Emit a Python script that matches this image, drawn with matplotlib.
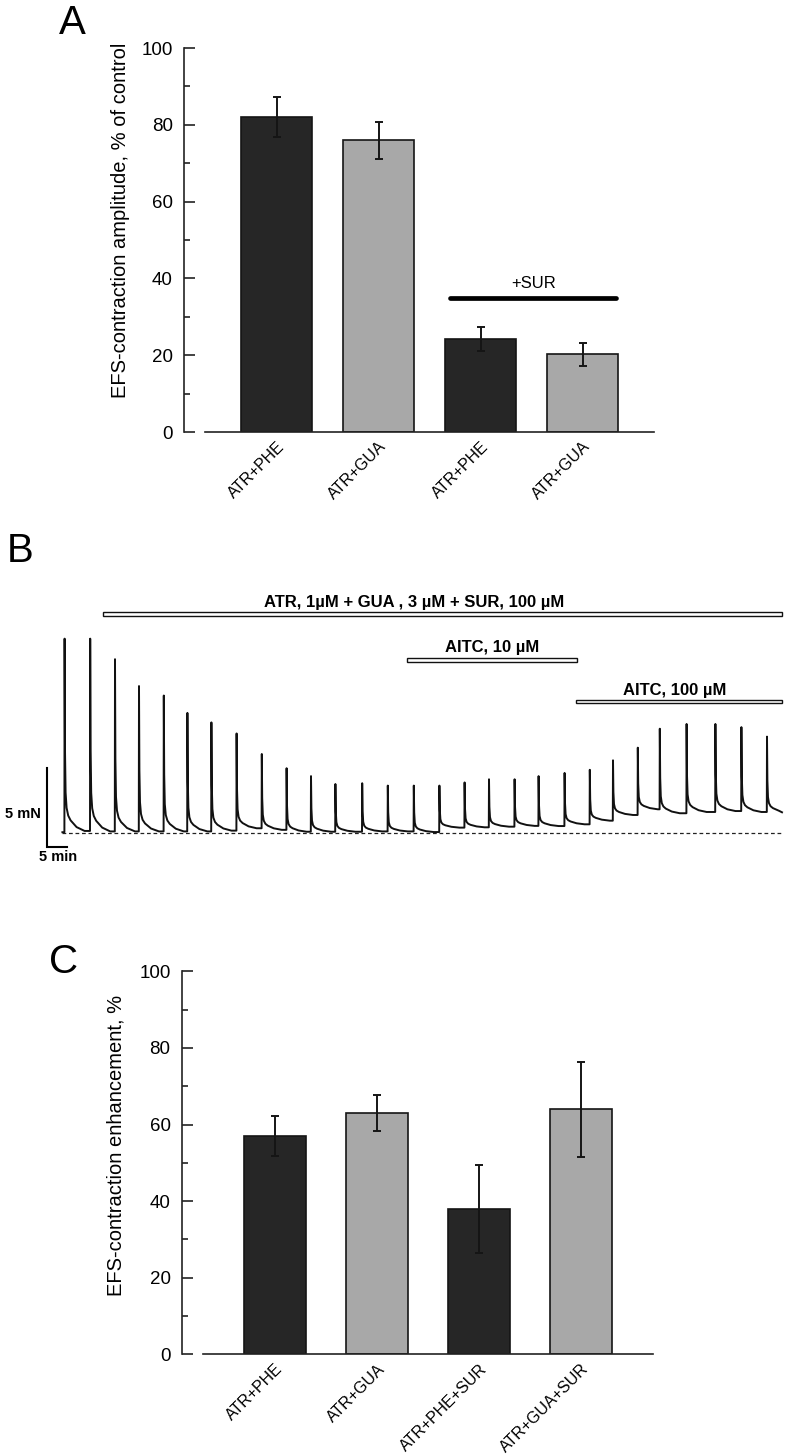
import numpy as np
import matplotlib
matplotlib.use("Agg")
from matplotlib import pyplot as plt
from matplotlib.patches import Rectangle
from matplotlib.ticker import MultipleLocator

plt.rcParams['font.family'] = ['Liberation Sans', 'DejaVu Sans']

# panel A
a_labels = ["ATR+PHE", "ATR+GUA", "ATR+PHE", "ATR+GUA"]
a_values = [82.0, 76.0, 24.2, 20.3]
a_errors = [5.2, 4.8, 3.1, 3.0]

# panel C
c_labels = ["ATR+PHE", "ATR+GUA", "ATR+PHE+SUR", "ATR+GUA+SUR"]
c_values = [57.0, 63.0, 38.0, 64.0]
c_errors = [5.2, 4.8, 11.5, 12.4]

# panel B: contraction trace (time in min, force in mN above baseline)
spike_t = [16.1, 22.5, 28.7, 34.7, 40.9, 46.8, 52.8, 59.1, 65.4, 71.6,
           77.7, 83.8, 90.5, 96.9, 103.4, 109.8, 116.1, 122.2, 128.6, 134.6,
           141.1, 147.4, 153.2, 159.4, 164.9, 171.6, 178.8, 185.3, 191.7]
spike_peak = [12.3, 12.3, 11.0, 9.3, 8.7, 7.6, 7.0, 6.3, 5.0, 4.1,
              3.6, 3.1, 3.15, 3.0, 3.0, 3.0, 3.2, 3.4, 3.4, 3.6,
              3.8, 4.0, 4.6, 5.4, 6.6, 6.9, 6.9, 6.7, 6.1]
plateau = [0.13, 0.1, 0.1, 0.1, 0.1, 0.1, 0.15, 0.3, 0.2, 0.08,
           0.08, 0.08, 0.1, 0.1, 0.06, 0.34, 0.36, 0.4, 0.45, 0.44,
           0.55, 0.78, 1.14, 1.5, 1.25, 1.33, 1.39, 1.33, 1.31]
trace_start, trace_end, start_level = 15.6, 195.5, 0.05
# relaxation shape after each peak (time after peak, fraction of amplitude left)
decay_dt = [0, 0.1, 0.25, 0.5, 0.9, 1.5, 3.0, 5.0]
decay_frac = [1, 0.42, 0.2, 0.12, 0.08, 0.055, 0.02, 0]

treat_labels = ["ATR, 1µM + GUA , 3 µM + SUR, 100 µM", "AITC, 10 µM", "AITC, 100 µM"]
treat_start = [25.75, 101.8, 144.0]
treat_end = [195.5, 144.2, 195.5]

dark = '#262626'
light = '#a8a8a8'
edge = '#151515'

W, H = 787, 1456
fig = plt.figure(figsize=(W / 100, H / 100), dpi=100)


def px_axes(x0, y0, x1, y1):
    return fig.add_axes([x0 / W, 1 - y1 / H, (x1 - x0) / W, (y1 - y0) / H])


def bar_panel(ax, labels, values, errors, width):
    x = np.arange(len(values))
    cols = [dark, light, dark, light]
    ax.bar(x, values, width, color=cols, edgecolor=edge, linewidth=1.2,
           yerr=errors, error_kw=dict(ecolor=edge, elinewidth=1.4, capsize=3.2, capthick=1.4),
           zorder=2)
    ax.set_xlim(-0.91, 3.70)
    ax.set_ylim(0, 100)
    for s in ['top', 'right']:
        ax.spines[s].set_visible(False)
    ax.spines['bottom'].set_bounds(-0.7, 3.7)
    for s in ['bottom', 'left']:
        ax.spines[s].set_linewidth(1.2)
        ax.spines[s].set_color('#222222')
    ax.yaxis.set_major_locator(MultipleLocator(20))
    ax.yaxis.set_minor_locator(MultipleLocator(10))
    ax.tick_params(axis='y', which='major', direction='in', length=8, width=1.2,
                   labelsize=13.5, pad=8, color='#222222')
    ax.tick_params(axis='y', which='minor', direction='in', length=4, width=1.2, color='#222222')
    ax.set_xticks(x)
    ax.set_xticklabels(labels, rotation=45, ha='right', va='top', rotation_mode='anchor', fontsize=11.5)
    ax.tick_params(axis='x', length=0, pad=5)


# ---- A ----
axA = px_axes(184, 48, 654, 432)
bar_panel(axA, a_labels, a_values, a_errors, 0.7)
axA.plot([1.7, 3.33], [35, 35], color='black', lw=3.4, solid_capstyle='round')
axA.text(2.52, 36.6, "+SUR", ha='center', va='bottom', fontsize=12)
fig.text(121 / W, 1 - 220 / H, "EFS-contraction amplitude, % of control", rotation=90,
         ha='center', va='center', fontsize=14.5)
fig.text(72 / W, 1 - 23 / H, "A", ha='center', va='center', fontsize=29)

# ---- B ----
axB = px_axes(0, 560, 787, 880)
px_min, px_mN, base_px = 4.0, 15.8, 833
axB.set_xlim(0, W / px_min)
axB.set_ylim(-(880 - base_px) / px_mN, (base_px - 560) / px_mN)
axB.axis('off')

tt = [trace_start]
ff = [start_level]
prev = start_level
for i in range(len(spike_t)):
    t0 = spike_t[i]
    nxt = spike_t[i + 1] if i + 1 < len(spike_t) else trace_end
    tt += [t0, t0 + 0.05]
    ff += [prev, spike_peak[i]]
    for d, fr in zip(decay_dt[1:], decay_frac[1:]):
        if t0 + 0.05 + d < nxt:
            tt.append(t0 + 0.05 + d)
            ff.append(plateau[i] + (spike_peak[i] - plateau[i]) * fr)
    tt.append(nxt)
    ff.append(plateau[i])
    prev = plateau[i]
axB.plot(tt, ff, color='#111111', lw=1.4, zorder=3, solid_joinstyle='round')
axB.plot([trace_start, trace_end], [0, 0], color='#222222', lw=0.9, dashes=(3, 2.2), zorder=2)

bar_y = [14.62 - 0.76, 10.95, 8.31]
text_y = [14.62, 11.73, 9.05]
text_x = [103.6, 123.1, 168.75]
for lab, s, e, by, tx, ty in zip(treat_labels, treat_start, treat_end, bar_y, text_x, text_y):
    axB.add_patch(Rectangle((s, by - 0.11), e - s, 0.22, facecolor='white',
                            edgecolor='#111111', lw=1.0, zorder=4))
    axB.text(tx, ty, lab, ha='center', va='center', fontsize=12, fontweight='bold')

# scale bars 5 mN / 5 min
sb_x, sb_y = 46.7 / px_min, -(846.7 - base_px) / px_mN
axB.plot([sb_x, sb_x, sb_x + 5], [sb_y + 5, sb_y, sb_y], color='black', lw=1.5,
         solid_joinstyle='miter')
axB.text(23 / px_min, (base_px - 814) / px_mN, "5 mN", ha='center', va='center',
         fontsize=10.5, fontweight='bold')
axB.text(58 / px_min, (base_px - 857) / px_mN, "5 min", ha='center', va='center',
         fontsize=10.5, fontweight='bold')
fig.text(20 / W, 1 - 551 / H, "B", ha='center', va='center', fontsize=29)

# ---- C ----
axC = px_axes(181.7, 971.3, 652.7, 1354.3)
bar_panel(axC, c_labels, c_values, c_errors, 0.61)
fig.text(116 / W, 1 - 1145 / H, "EFS-contraction enhancement, %", rotation=90,
         ha='center', va='center', fontsize=14.5)
fig.text(64 / W, 1 - 962 / H, "C", ha='center', va='center', fontsize=29)

fig.savefig("out.png", dpi=100)
